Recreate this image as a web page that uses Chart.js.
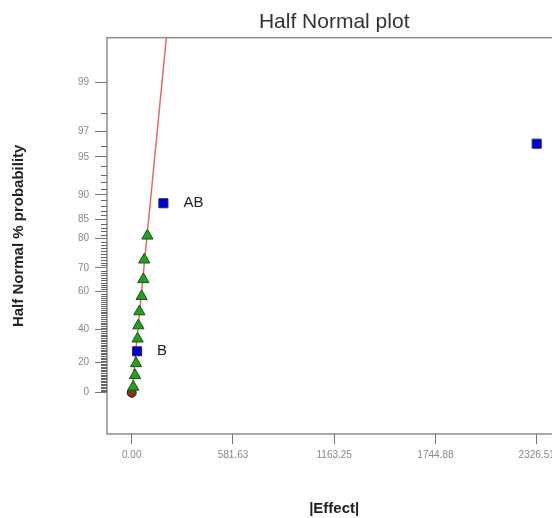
<!DOCTYPE html>
<html>
<head>
<meta charset="utf-8">
<script src="https://cdn.jsdelivr.net/npm/chart.js@4.4.1/dist/chart.umd.min.js"></script>
<style>
html, body { margin: 0; padding: 0; background: #fff; overflow: hidden; width: 552px; height: 518px; }
#wrap { position: absolute; left: 0; top: 0; width: 600px; height: 518px; }
</style>
</head>
<body>
<div id="wrap"><canvas id="c" width="600" height="518"></canvas></div>
<script>
// ---- data ----
const errorEffects  = [9, 19, 25, 34, 38, 44, 57, 67, 72, 90];
const errorPercents = [3.85, 11.54, 19.23, 34.62, 42.31, 50.0, 57.69, 65.38, 73.08, 80.77];

const termNames    = ['B', 'AB', 'A'];
const termEffects  = [31, 182, 2326.51];
const termPercents = [26.92, 88.46, 96.15];

const originEffects  = [0];
const originPercents = [0];

const fitLineEffects  = [0, 222];
const fitLinePercents = [0, 99.9];

const xTickValues = [0, 581.63, 1163.25, 1744.88, 2326.51];
const xTickLabels = ['0.00', '581.63', '1163.25', '1744.88', '2326.51'];

const yMajorPercents = [0, 20, 40, 60, 70, 80, 85, 90, 95, 97, 99];
const yTickLabels    = ['0', '20', '40', '60', '70', '80', '85', '90', '95', '97', '99'];
const yMinorPercents = [];
for (let p = 1; p <= 98; p++) if (!yMajorPercents.includes(p)) yMinorPercents.push(p);

// ---- half-normal probability transform (scale mapping) ----
function invNorm(p) {
  const a = [-3.969683028665376e+01, 2.209460984245205e+02, -2.759285104469687e+02, 1.383577518672690e+02, -3.066479806614716e+01, 2.506628277459239e+00];
  const b = [-5.447609879822406e+01, 1.615858368580409e+02, -1.556989798598866e+02, 6.680131188771972e+01, -1.328068155288572e+01];
  const c = [-7.784894002430293e-03, -3.223964580411365e-01, -2.400758277161838e+00, -2.549671010229528e+00, 4.374664141464968e+00, 2.938163982698783e+00];
  const d = [7.784695709041462e-03, 3.224671290700398e-01, 2.445134137142996e+00, 3.754408661907416e+00];
  const pl = 0.02425, ph = 1 - pl;
  let q, r;
  if (p < pl) {
    q = Math.sqrt(-2 * Math.log(p));
    return (((((c[0]*q+c[1])*q+c[2])*q+c[3])*q+c[4])*q+c[5]) / ((((d[0]*q+d[1])*q+d[2])*q+d[3])*q+1);
  }
  if (p > ph) {
    q = Math.sqrt(-2 * Math.log(1 - p));
    return -(((((c[0]*q+c[1])*q+c[2])*q+c[3])*q+c[4])*q+c[5]) / ((((d[0]*q+d[1])*q+d[2])*q+d[3])*q+1);
  }
  q = p - 0.5; r = q * q;
  return (((((a[0]*r+a[1])*r+a[2])*r+a[3])*r+a[4])*r+a[5])*q / (((((b[0]*r+b[1])*r+b[2])*r+b[3])*r+b[4])*r+1);
}
function toZ(pct) { return invNorm(0.5 + pct / 200); }
function pts(xs, ps) { return xs.map((x, i) => ({ x: x, y: toZ(ps[i]) })); }

Chart.defaults.font.family = "'Liberation Sans', Arial, sans-serif";
Chart.defaults.animation = false;

const framePlugin = {
  id: 'frame',
  beforeDatasetsDraw(chart) {
    const { ctx, chartArea: a, scales } = chart;
    ctx.save();
    ctx.strokeStyle = '#8c8c8c';
    ctx.lineWidth = 1.5;
    ctx.strokeRect(a.left, a.top, a.right - a.left, a.bottom - a.top);
    ctx.strokeStyle = '#666';
    ctx.lineWidth = 1;
    ctx.beginPath();
    yMinorPercents.forEach(p => {
      const y = Math.round(scales.y.getPixelForValue(toZ(p))) + 0.5;
      ctx.moveTo(a.left - 6, y);
      ctx.lineTo(a.left, y);
    });
    ctx.stroke();
    ctx.restore();
  }
};

const labelPlugin = {
  id: 'termLabels',
  afterDatasetsDraw(chart) {
    const meta = chart.getDatasetMeta(3);
    const ctx = chart.ctx;
    ctx.save();
    ctx.font = "15px 'Liberation Sans', Arial, sans-serif";
    ctx.fillStyle = '#222';
    ctx.textAlign = 'left';
    ctx.textBaseline = 'middle';
    meta.data.forEach((el, i) => {
      ctx.fillText(termNames[i], el.x + 20, el.y);
    });
    ctx.restore();
  }
};

new Chart(document.getElementById('c'), {
  type: 'scatter',
  data: {
    datasets: [
      {
        type: 'line', label: 'fit', order: 3,
        data: pts(fitLineEffects, fitLinePercents),
        borderColor: '#e36a6a', borderWidth: 1.5, pointRadius: 0, fill: false, tension: 0
      },
      {
        label: 'origin', order: 2,
        data: pts(originEffects, originPercents),
        pointStyle: 'circle', pointRadius: 4.5,
        backgroundColor: '#7b3b22', borderColor: '#2a140a', borderWidth: 1
      },
      {
        label: 'error', order: 1,
        data: pts(errorEffects, errorPercents),
        pointStyle: 'triangle', pointRadius: 6.5,
        backgroundColor: '#22a022', borderColor: '#155515', borderWidth: 1
      },
      {
        label: 'terms', order: 0,
        data: pts(termEffects, termPercents),
        pointStyle: 'rect', pointRadius: 6.4,
        backgroundColor: '#0000c0', borderColor: '#1a1aa0', borderWidth: 1
      }
    ]
  },
  options: {
    responsive: false,
    layout: { padding: { left: 0, right: 38.6, top: 0, bottom: 0 } },
    plugins: {
      legend: { display: false },
      tooltip: { enabled: false },
      title: {
        display: true, text: 'Half Normal plot', fullSize: false,
        color: '#333', font: { size: 21, weight: 'normal' },
        padding: { top: 10, bottom: 2.5 }
      }
    },
    scales: {
      x: {
        type: 'linear', min: -142, max: 2468.5,
        afterBuildTicks: s => { s.ticks = xTickValues.map(v => ({ value: v })); },
        ticks: { callback: (v, i) => xTickLabels[i], color: '#888', font: { size: 10 }, padding: 5, maxRotation: 0, autoSkip: false },
        grid: { drawOnChartArea: false, drawTicks: true, tickLength: 10, tickColor: '#777', tickWidth: 1 },
        border: { display: false },
        title: { display: true, text: '|Effect|', color: '#222', font: { size: 15, weight: 'bold' }, padding: { top: 0, bottom: 0 } },
        afterFit: s => { s.height = 84; }
      },
      y: {
        type: 'linear', min: -0.343, max: 2.95,
        afterBuildTicks: s => { s.ticks = yMajorPercents.map(p => ({ value: toZ(p) })); },
        ticks: { callback: (v, i) => yTickLabels[i], color: '#888', font: { size: 10 }, padding: 6, autoSkip: false },
        grid: { drawOnChartArea: false, drawTicks: true, tickLength: 12, tickColor: '#777', tickWidth: 1 },
        border: { display: false },
        title: { display: true, text: 'Half Normal % probability', color: '#222', font: { size: 15, weight: 'bold' }, padding: { top: 10, bottom: 0 } },
        afterFit: s => { s.width = 107; }
      }
    }
  },
  plugins: [framePlugin, labelPlugin]
});
</script>
</body>
</html>
